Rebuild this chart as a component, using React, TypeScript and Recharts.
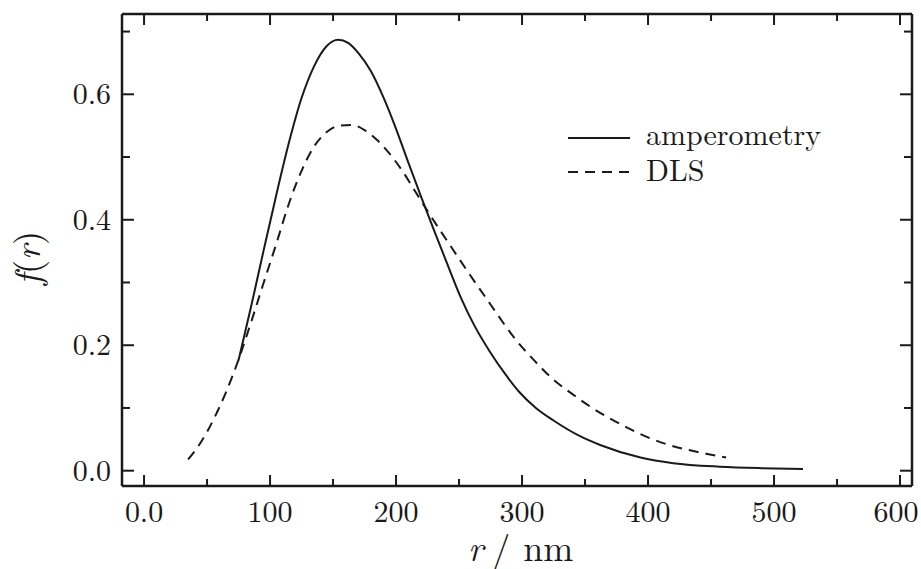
import React from "react";
import { LineChart, Line, XAxis, YAxis } from "recharts";

const ampR = [75, 85, 95, 105, 115, 125, 135, 145, 154, 162, 170, 180, 190, 200, 210, 220, 230, 240, 251, 262, 275, 287, 298, 311, 325, 346, 362, 394, 420, 457, 490, 523];
const ampF = [0.176, 0.262, 0.352, 0.440, 0.523, 0.594, 0.645, 0.677, 0.687, 0.682, 0.666, 0.637, 0.595, 0.545, 0.490, 0.436, 0.384, 0.333, 0.278, 0.232, 0.188, 0.153, 0.125, 0.100, 0.080, 0.055, 0.041, 0.021, 0.012, 0.0064, 0.004, 0.0027];

const dlsR = [35, 45, 55, 65, 75, 85, 95, 105, 115, 125, 135, 145, 155, 165, 175, 185, 195, 205, 215, 225, 235, 245, 256, 275, 293, 310, 325, 340, 355, 370, 385, 400, 415, 430, 446, 462];
const dlsF = [0.018, 0.045, 0.081, 0.125, 0.177, 0.237, 0.300, 0.362, 0.426, 0.478, 0.517, 0.540, 0.550, 0.551, 0.543, 0.527, 0.505, 0.478, 0.446, 0.414, 0.383, 0.353, 0.320, 0.265, 0.214, 0.175, 0.145, 0.122, 0.101, 0.083, 0.067, 0.053, 0.042, 0.034, 0.027, 0.021];

const xTicks = [0, 50, 100, 150, 200, 250, 300, 350, 400, 450, 500, 550, 600];
const yTicks = [0, 0.1, 0.2, 0.3, 0.4, 0.5, 0.6, 0.7];
const xDomain = [-17.5, 609.5];
const yDomain = [-0.0244, 0.728];

const seriesNames = ["amperometry", "DLS"];

const ampData = ampR.map((r, i) => ({ r, f: ampF[i] }));
const dlsData = dlsR.map((r, i) => ({ r, f: dlsF[i] }));

const FONT = "Latin Modern Roman, CMU Serif, Liberation Serif, serif";
const INK = "#1a1a1a";
const DASH = "10 7";
const txt = { fontFamily: FONT };

const isMajorX = (v: number) => Math.round(v) % 100 === 0;
const isMajorY = (v: number) => Math.round(v * 10) % 2 === 0;

const BottomTick = (props: any) => {
  const { x, y, payload } = props;
  const v = payload.value;
  const major = isMajorX(v);
  const lx = Math.min(x, 896);
  return (
    <g>
      <line x1={x} y1={y} x2={x} y2={y - (major ? 11 : 7)} stroke={INK} strokeWidth={2} />
      {major && (
        <text x={lx} y={y + 36} textAnchor="middle" style={txt} fontSize={30} fill={INK}>
          {v === 0 ? "0.0" : String(v)}
        </text>
      )}
    </g>
  );
};

const TopTick = (props: any) => {
  const { x, y, payload } = props;
  const major = isMajorX(payload.value);
  return <line x1={x} y1={y} x2={x} y2={y + (major ? 11 : 7)} stroke={INK} strokeWidth={2} />;
};

const LeftTick = (props: any) => {
  const { x, y, payload } = props;
  const v = payload.value;
  const major = isMajorY(v);
  return (
    <g>
      <line x1={x} y1={y} x2={x + (major ? 12 : 8)} y2={y} stroke={INK} strokeWidth={2} />
      {major && (
        <text x={x - 11} y={y + 10} textAnchor="end" style={txt} fontSize={30} fill={INK}>
          {v.toFixed(1)}
        </text>
      )}
    </g>
  );
};

const RightTick = (props: any) => {
  const { x, y, payload } = props;
  const major = isMajorY(payload.value);
  return <line x1={x} y1={y} x2={x - (major ? 12 : 8)} y2={y} stroke={INK} strokeWidth={2} />;
};

const XTitle = (props: any) => {
  const vb = props.viewBox;
  return (
    <text x={vb.x + 346} y={vb.y + 75} textAnchor="start" style={txt} fontSize={36} fill={INK}>
      <tspan fontStyle="italic">r</tspan>
      <tspan dx={9}>/</tspan>
      <tspan dx={13}>nm</tspan>
    </text>
  );
};

const YTitle = (props: any) => {
  const vb = props.viewBox;
  const cx = vb.x + 40;
  const cy = vb.y + vb.height / 2 + 8;
  return (
    <text x={cx} y={cy} textAnchor="middle" style={txt} fontSize={36} fill={INK} transform={`rotate(-90 ${cx} ${cy})`}>
      <tspan fontStyle="italic">f</tspan>
      <tspan>(</tspan>
      <tspan fontStyle="italic">r</tspan>
      <tspan>)</tspan>
    </text>
  );
};

const axisLine = { stroke: INK, strokeWidth: 2.5 };

export default function App() {
  return (
    <div style={{ position: "fixed", left: 0, top: 0, width: 921, height: 569, background: "#fff" }}>
      <LineChart width={921} height={569} margin={{ top: 13, right: 8, bottom: 0, left: 0 }}>
        <XAxis
          xAxisId="b"
          dataKey="r"
          type="number"
          domain={xDomain}
          ticks={xTicks}
          interval={0}
          orientation="bottom"
          height={83}
          tickSize={0}
          tickMargin={0}
          tickLine={false}
          axisLine={axisLine}
          tick={<BottomTick />}
          label={<XTitle />}
          allowDataOverflow
        />
        <XAxis
          xAxisId="t"
          dataKey="r"
          type="number"
          domain={xDomain}
          ticks={xTicks}
          interval={0}
          orientation="top"
          height={1}
          tickSize={0}
          tickMargin={0}
          tickLine={false}
          axisLine={axisLine}
          tick={<TopTick />}
          allowDataOverflow
        />
        <YAxis
          yAxisId="l"
          type="number"
          domain={yDomain}
          ticks={yTicks}
          interval={0}
          orientation="left"
          width={122}
          tickSize={0}
          tickMargin={0}
          tickLine={false}
          axisLine={axisLine}
          tick={<LeftTick />}
          label={<YTitle />}
          allowDataOverflow
        />
        <YAxis
          yAxisId="rt"
          type="number"
          domain={yDomain}
          ticks={yTicks}
          interval={0}
          orientation="right"
          width={1}
          tickSize={0}
          tickMargin={0}
          tickLine={false}
          axisLine={axisLine}
          tick={<RightTick />}
          allowDataOverflow
        />
        <Line
          xAxisId="b"
          yAxisId="l"
          data={ampData}
          dataKey="f"
          name={seriesNames[0]}
          type="monotone"
          stroke={INK}
          strokeWidth={2}
          dot={false}
          isAnimationActive={false}
        />
        <Line
          xAxisId="b"
          yAxisId="l"
          data={dlsData}
          dataKey="f"
          name={seriesNames[1]}
          type="monotone"
          stroke={INK}
          strokeWidth={2}
          strokeDasharray={DASH}
          dot={false}
          isAnimationActive={false}
        />
      </LineChart>
      <svg width={340} height={100} style={{ position: "absolute", left: 560, top: 110 }}>
        {seriesNames.map((n, i) => (
          <g key={n}>
            <line
              x1={8}
              x2={70}
              y1={28 + i * 34}
              y2={28 + i * 34}
              stroke={INK}
              strokeWidth={2}
              strokeDasharray={i === 1 ? DASH : undefined}
            />
            <text x={86} y={35 + i * 36} style={txt} fontSize={30} fill={INK}>
              {n}
            </text>
          </g>
        ))}
      </svg>
    </div>
  );
}
